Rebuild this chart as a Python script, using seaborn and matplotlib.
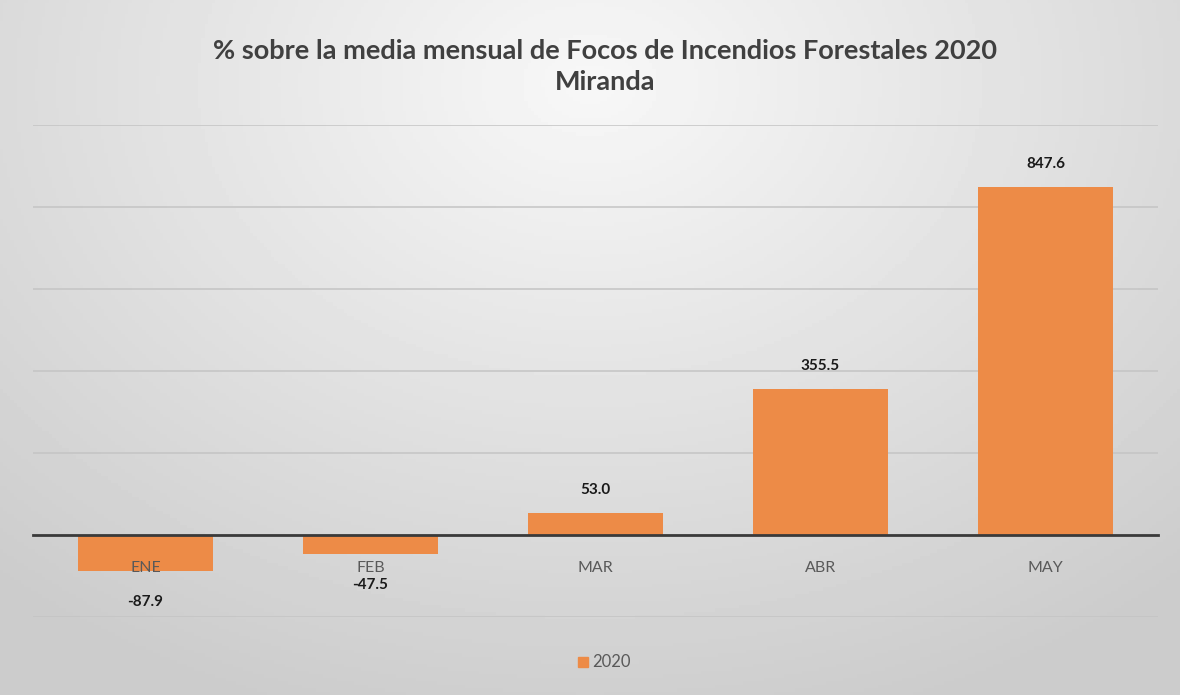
import numpy as np
import pandas as pd
import matplotlib
matplotlib.use("Agg")
import matplotlib.pyplot as plt
from matplotlib.lines import Line2D
import seaborn as sns

# data
months = ["ENE", "FEB", "MAR", "ABR", "MAY"]
values = [-87.9, -47.5, 53.0, 355.5, 847.6]
series_name = "2020"
title = "% sobre la media mensual de Focos de Incendios Forestales 2020\nMiranda"

df = pd.DataFrame({"mes": months, "valor": values})

sns.set_theme(style="white")
plt.rcParams["font.family"] = ["Lato", "DejaVu Sans"]

bar_color = "#ED8B47"

fig = plt.figure(figsize=(11.8, 6.95), dpi=100)

# gray radial gradient background
bg = fig.add_axes([0, 0, 1, 1], zorder=0)
yy, xx = np.mgrid[0:1:200j, 0:1:340j]
r = np.sqrt(((xx - 0.5) / 0.75) ** 2 + ((yy - 0.12) / 0.95) ** 2)
shade = 0.97 - 0.17 * np.clip(r, 0, 1)
bg.imshow(shade, cmap="gray", vmin=0, vmax=1, aspect="auto", extent=[0, 1, 1, 0])
bg.set_axis_off()

ax = fig.add_axes([33 / 1180, 78 / 695, 1125 / 1180, 492 / 695], zorder=1)
ax.patch.set_alpha(0)

sns.barplot(data=df, x="mes", y="valor", color=bar_color, width=0.6,
            saturation=1, linewidth=0, ax=ax, zorder=3)

ax.set_ylim(-200, 1000)
ax.set_yticks(np.arange(-200, 1001, 200))
ax.yaxis.grid(True, color="#c4c4c4", linewidth=1.1)
ax.set_axisbelow(True)
ax.tick_params(axis="y", left=False, labelleft=False)
ax.set_xlabel("")
ax.set_ylabel("")
for s in ["top", "right", "left"]:
    ax.spines[s].set_visible(False)
ax.spines["bottom"].set_position(("data", 0))
ax.spines["bottom"].set_color("#3a3a3a")
ax.spines["bottom"].set_linewidth(2)
ax.spines["bottom"].set_zorder(4)
ax.tick_params(axis="x", bottom=False, pad=13, labelsize=11.5, labelcolor="#595959")
ax.xaxis.set_zorder(5)

for i, v in enumerate(values):
    off = 17 if v >= 0 else -22
    ax.annotate(f"{v:.1f}", xy=(i, v), xytext=(0, off), textcoords="offset points",
                ha="center", va="center", fontsize=11, fontweight="bold",
                color="#1a1a1a", zorder=6)

fig.text(0.513, 0.905, title, ha="center", va="center", fontsize=19.5,
         fontweight="bold", color="#404040", linespacing=1.35)

handle = Line2D([], [], marker="s", color=bar_color, linestyle="none", markersize=7)
fig.legend([handle], [series_name], loc="center", bbox_to_anchor=(0.51, 0.047),
           frameon=False, fontsize=12, labelcolor="#595959", handletextpad=0.0,
           handlelength=1.2)

fig.savefig("out.png", dpi=100)
